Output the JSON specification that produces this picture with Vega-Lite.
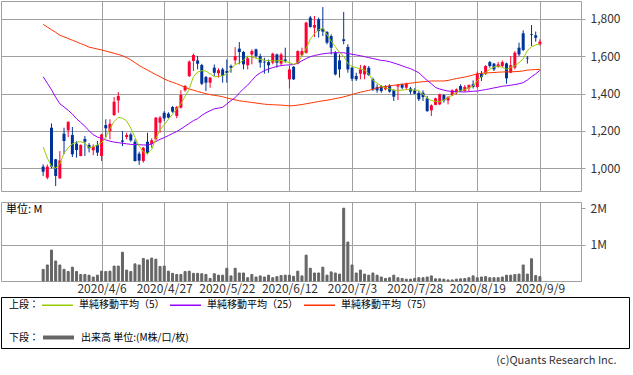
{
"$schema":"https://vega.github.io/schema/vega-lite/v6.json",
"padding":0,
"bounds":"full",
"spacing":1,
"title":{"text":"(c)Quants Research Inc.","orient":"bottom","anchor":"end","offset":6,"dx":-13,"fontSize":11,"fontWeight":"normal","color":"#333333","font":"Noto Sans CJK JP"},
"config":{
"view":{"stroke":"#a0a0a0"},
"font":"Noto Sans CJK JP",
"axis":{"gridColor":"#a0a0a0","gridOpacity":1,"labelFont":"Noto Sans CJK JP","labelFontSize":12,"labelColor":"#333333","domain":false,"tickColor":"#a0a0a0","title":null},
"legend":{"labelFont":"Noto Sans CJK JP","titleFont":"Noto Sans CJK JP","labelFontSize":10,"titleFontSize":10,"titleFontWeight":"normal","labelColor":"#000000","titleColor":"#000000","padding":0,"titleAnchor":"middle","titleBaseline":"top"}
},
"resolve":{"scale":{"color":"shared","stroke":"shared"},"legend":{"color":"shared","stroke":"shared"}},
"data":{"values":[
{"i":0,"d":"2020/3/16","o":1009,"h":1021,"l":959,"c":982,"v":0.32,"m5":1114,"m25":1490,"m75":1770},
{"i":1,"d":"2020/3/17","o":950,"h":1020,"l":941,"c":1009,"v":0.44,"m5":1055,"m25":1455,"m75":1755},
{"i":2,"d":"2020/3/18","o":1217,"h":1240,"l":1000,"c":1009,"v":0.85,"m5":1010,"m25":1420,"m75":1741},
{"i":3,"d":"2020/3/19","o":1048,"h":1050,"l":905,"c":959,"v":0.55,"m5":1000,"m25":1380,"m75":1727},
{"i":4,"d":"2020/3/23","o":946,"h":1092,"l":944,"c":1042,"v":0.44,"m5":1025,"m25":1345,"m75":1712},
{"i":5,"d":"2020/3/24","o":1185,"h":1217,"l":1075,"c":1146,"v":0.32,"m5":1080,"m25":1328,"m75":1703},
{"i":6,"d":"2020/3/25","o":1203,"h":1250,"l":1167,"c":1249,"v":0.26,"m5":1110,"m25":1310,"m75":1694},
{"i":7,"d":"2020/3/26","o":1178,"h":1221,"l":1060,"c":1075,"v":0.38,"m5":1130,"m25":1290,"m75":1685},
{"i":8,"d":"2020/3/27","o":1132,"h":1146,"l":1057,"c":1098,"v":0.26,"m5":1140,"m25":1265,"m75":1676},
{"i":9,"d":"2020/3/30","o":1066,"h":1128,"l":1064,"c":1125,"v":0.18,"m5":1142,"m25":1245,"m75":1667},
{"i":10,"d":"2020/3/31","o":1157,"h":1173,"l":1066,"c":1142,"v":0.18,"m5":1135,"m25":1225,"m75":1658},
{"i":11,"d":"2020/4/1","o":1125,"h":1135,"l":1085,"c":1107,"v":0.16,"m5":1110,"m25":1200,"m75":1648},
{"i":12,"d":"2020/4/2","o":1096,"h":1128,"l":1070,"c":1116,"v":0.11,"m5":1115,"m25":1180,"m75":1643},
{"i":13,"d":"2020/4/3","o":1125,"h":1146,"l":1066,"c":1084,"v":0.16,"m5":1125,"m25":1167,"m75":1638},
{"i":14,"d":"2020/4/6","o":1066,"h":1185,"l":1039,"c":1181,"v":0.27,"m5":1137,"m25":1160,"m75":1633},
{"i":15,"d":"2020/4/7","o":1231,"h":1262,"l":1164,"c":1214,"v":0.26,"m5":1165,"m25":1152,"m75":1627},
{"i":16,"d":"2020/4/8","o":1199,"h":1262,"l":1155,"c":1238,"v":0.27,"m5":1212,"m25":1145,"m75":1621},
{"i":17,"d":"2020/4/9","o":1285,"h":1381,"l":1280,"c":1356,"v":0.41,"m5":1250,"m25":1140,"m75":1615},
{"i":18,"d":"2020/4/10","o":1363,"h":1408,"l":1297,"c":1387,"v":0.41,"m5":1273,"m25":1137,"m75":1609},
{"i":19,"d":"2020/4/13","o":1149,"h":1199,"l":1119,"c":1142,"v":0.79,"m5":1268,"m25":1134,"m75":1602},
{"i":20,"d":"2020/4/14","o":1167,"h":1190,"l":1155,"c":1178,"v":0.30,"m5":1253,"m25":1131,"m75":1592},
{"i":21,"d":"2020/4/15","o":1181,"h":1190,"l":1142,"c":1149,"v":0.26,"m5":1215,"m25":1128,"m75":1580},
{"i":22,"d":"2020/4/16","o":1142,"h":1155,"l":1036,"c":1039,"v":0.47,"m5":1165,"m25":1127,"m75":1565},
{"i":23,"d":"2020/4/17","o":1078,"h":1089,"l":1018,"c":1041,"v":0.44,"m5":1118,"m25":1126,"m75":1550},
{"i":24,"d":"2020/4/20","o":1039,"h":1114,"l":1030,"c":1110,"v":0.62,"m5":1088,"m25":1125,"m75":1537},
{"i":25,"d":"2020/4/21","o":1142,"h":1190,"l":1075,"c":1083,"v":0.58,"m5":1078,"m25":1124,"m75":1525},
{"i":26,"d":"2020/4/22","o":1130,"h":1160,"l":1110,"c":1150,"v":0.63,"m5":1100,"m25":1130,"m75":1513},
{"i":27,"d":"2020/4/23","o":1155,"h":1273,"l":1150,"c":1271,"v":0.60,"m5":1160,"m25":1143,"m75":1501},
{"i":28,"d":"2020/4/24","o":1244,"h":1280,"l":1190,"c":1271,"v":0.40,"m5":1205,"m25":1155,"m75":1490},
{"i":29,"d":"2020/4/27","o":1297,"h":1306,"l":1253,"c":1267,"v":0.41,"m5":1232,"m25":1164,"m75":1478},
{"i":30,"d":"2020/4/28","o":1292,"h":1300,"l":1267,"c":1271,"v":0.27,"m5":1262,"m25":1175,"m75":1468},
{"i":31,"d":"2020/4/30","o":1328,"h":1333,"l":1297,"c":1303,"v":0.21,"m5":1290,"m25":1186,"m75":1460},
{"i":32,"d":"2020/5/1","o":1280,"h":1333,"l":1268,"c":1328,"v":0.18,"m5":1318,"m25":1197,"m75":1452},
{"i":33,"d":"2020/5/7","o":1324,"h":1417,"l":1320,"c":1392,"v":0.18,"m5":1345,"m25":1210,"m75":1443},
{"i":34,"d":"2020/5/8","o":1417,"h":1445,"l":1410,"c":1440,"v":0.26,"m5":1385,"m25":1225,"m75":1433},
{"i":35,"d":"2020/5/11","o":1493,"h":1577,"l":1488,"c":1570,"v":0.27,"m5":1425,"m25":1240,"m75":1424},
{"i":36,"d":"2020/5/12","o":1574,"h":1613,"l":1520,"c":1606,"v":0.21,"m5":1490,"m25":1255,"m75":1418},
{"i":37,"d":"2020/5/13","o":1577,"h":1600,"l":1529,"c":1559,"v":0.21,"m5":1515,"m25":1265,"m75":1411},
{"i":38,"d":"2020/5/14","o":1552,"h":1559,"l":1445,"c":1452,"v":0.20,"m5":1522,"m25":1283,"m75":1405},
{"i":39,"d":"2020/5/15","o":1488,"h":1494,"l":1413,"c":1458,"v":0.18,"m5":1520,"m25":1297,"m75":1399},
{"i":40,"d":"2020/5/18","o":1458,"h":1488,"l":1431,"c":1485,"v":0.07,"m5":1505,"m25":1308,"m75":1394},
{"i":41,"d":"2020/5/19","o":1538,"h":1555,"l":1494,"c":1511,"v":0.20,"m5":1490,"m25":1318,"m75":1390},
{"i":42,"d":"2020/5/20","o":1508,"h":1535,"l":1485,"c":1525,"v":0.16,"m5":1492,"m25":1322,"m75":1387},
{"i":43,"d":"2020/5/21","o":1529,"h":1538,"l":1458,"c":1494,"v":0.16,"m5":1495,"m25":1326,"m75":1383},
{"i":44,"d":"2020/5/22","o":1520,"h":1582,"l":1458,"c":1510,"v":0.35,"m5":1505,"m25":1344,"m75":1376},
{"i":45,"d":"2020/5/25","o":1547,"h":1555,"l":1511,"c":1538,"v":0.14,"m5":1530,"m25":1362,"m75":1371},
{"i":46,"d":"2020/5/26","o":1577,"h":1648,"l":1556,"c":1600,"v":0.35,"m5":1556,"m25":1378,"m75":1366},
{"i":47,"d":"2020/5/27","o":1640,"h":1675,"l":1556,"c":1622,"v":0.22,"m5":1562,"m25":1403,"m75":1361},
{"i":48,"d":"2020/5/28","o":1622,"h":1627,"l":1529,"c":1556,"v":0.22,"m5":1580,"m25":1425,"m75":1358},
{"i":49,"d":"2020/5/29","o":1551,"h":1600,"l":1529,"c":1588,"v":0.09,"m5":1600,"m25":1445,"m75":1355},
{"i":50,"d":"2020/6/1","o":1609,"h":1636,"l":1556,"c":1627,"v":0.18,"m5":1595,"m25":1470,"m75":1352},
{"i":51,"d":"2020/6/2","o":1636,"h":1640,"l":1591,"c":1600,"v":0.11,"m5":1588,"m25":1495,"m75":1349},
{"i":52,"d":"2020/6/3","o":1600,"h":1613,"l":1538,"c":1565,"v":0.14,"m5":1583,"m25":1510,"m75":1346},
{"i":53,"d":"2020/6/4","o":1570,"h":1591,"l":1506,"c":1566,"v":0.11,"m5":1578,"m25":1522,"m75":1343},
{"i":54,"d":"2020/6/5","o":1568,"h":1582,"l":1511,"c":1551,"v":0.16,"m5":1576,"m25":1532,"m75":1341},
{"i":55,"d":"2020/6/8","o":1565,"h":1618,"l":1556,"c":1613,"v":0.09,"m5":1574,"m25":1538,"m75":1340},
{"i":56,"d":"2020/6/9","o":1609,"h":1613,"l":1538,"c":1565,"v":0.12,"m5":1575,"m25":1545,"m75":1339},
{"i":57,"d":"2020/6/10","o":1560,"h":1618,"l":1547,"c":1609,"v":0.15,"m5":1577,"m25":1549,"m75":1338},
{"i":58,"d":"2020/6/11","o":1582,"h":1645,"l":1565,"c":1574,"v":0.16,"m5":1571,"m25":1552,"m75":1336},
{"i":59,"d":"2020/6/12","o":1476,"h":1547,"l":1427,"c":1529,"v":0.16,"m5":1565,"m25":1553,"m75":1334},
{"i":60,"d":"2020/6/15","o":1543,"h":1547,"l":1472,"c":1476,"v":0.13,"m5":1556,"m25":1555,"m75":1335},
{"i":61,"d":"2020/6/16","o":1561,"h":1631,"l":1556,"c":1627,"v":0.27,"m5":1565,"m25":1562,"m75":1338},
{"i":62,"d":"2020/6/17","o":1605,"h":1645,"l":1600,"c":1627,"v":0.14,"m5":1600,"m25":1575,"m75":1341},
{"i":63,"d":"2020/6/18","o":1618,"h":1784,"l":1613,"c":1779,"v":0.71,"m5":1640,"m25":1587,"m75":1345},
{"i":64,"d":"2020/6/19","o":1806,"h":1815,"l":1752,"c":1756,"v":0.35,"m5":1690,"m25":1597,"m75":1349},
{"i":65,"d":"2020/6/22","o":1752,"h":1815,"l":1702,"c":1766,"v":0.22,"m5":1720,"m25":1603,"m75":1353},
{"i":66,"d":"2020/6/23","o":1797,"h":1806,"l":1699,"c":1734,"v":0.22,"m5":1740,"m25":1608,"m75":1357},
{"i":67,"d":"2020/6/24","o":1747,"h":1862,"l":1707,"c":1731,"v":0.38,"m5":1750,"m25":1612,"m75":1361},
{"i":68,"d":"2020/6/25","o":1729,"h":1734,"l":1663,"c":1672,"v":0.16,"m5":1715,"m25":1615,"m75":1364},
{"i":69,"d":"2020/6/26","o":1707,"h":1716,"l":1609,"c":1645,"v":0.25,"m5":1680,"m25":1617,"m75":1368},
{"i":70,"d":"2020/6/29","o":1618,"h":1627,"l":1497,"c":1502,"v":0.22,"m5":1650,"m25":1618,"m75":1373},
{"i":71,"d":"2020/6/30","o":1577,"h":1609,"l":1485,"c":1529,"v":0.19,"m5":1620,"m25":1618,"m75":1377},
{"i":72,"d":"2020/7/1","o":1690,"h":1836,"l":1663,"c":1681,"v":2.0,"m5":1600,"m25":1618,"m75":1382},
{"i":73,"d":"2020/7/2","o":1649,"h":1663,"l":1511,"c":1529,"v":1.07,"m5":1560,"m25":1614,"m75":1388},
{"i":74,"d":"2020/7/3","o":1538,"h":1543,"l":1467,"c":1479,"v":0.44,"m5":1545,"m25":1610,"m75":1395},
{"i":75,"d":"2020/7/6","o":1494,"h":1511,"l":1467,"c":1476,"v":0.22,"m5":1538,"m25":1606,"m75":1401},
{"i":76,"d":"2020/7/7","o":1506,"h":1552,"l":1476,"c":1529,"v":0.30,"m5":1532,"m25":1602,"m75":1407},
{"i":77,"d":"2020/7/8","o":1502,"h":1552,"l":1476,"c":1547,"v":0.19,"m5":1525,"m25":1597,"m75":1412},
{"i":78,"d":"2020/7/9","o":1538,"h":1547,"l":1494,"c":1499,"v":0.16,"m5":1505,"m25":1592,"m75":1417},
{"i":79,"d":"2020/7/10","o":1476,"h":1485,"l":1413,"c":1422,"v":0.22,"m5":1470,"m25":1587,"m75":1422},
{"i":80,"d":"2020/7/13","o":1435,"h":1449,"l":1404,"c":1417,"v":0.16,"m5":1455,"m25":1582,"m75":1430},
{"i":81,"d":"2020/7/14","o":1438,"h":1445,"l":1404,"c":1413,"v":0.11,"m5":1440,"m25":1577,"m75":1434},
{"i":82,"d":"2020/7/15","o":1422,"h":1445,"l":1417,"c":1440,"v":0.07,"m5":1430,"m25":1575,"m75":1437},
{"i":83,"d":"2020/7/16","o":1442,"h":1449,"l":1404,"c":1410,"v":0.09,"m5":1425,"m25":1570,"m75":1441},
{"i":84,"d":"2020/7/17","o":1417,"h":1422,"l":1360,"c":1383,"v":0.16,"m5":1418,"m25":1563,"m75":1444},
{"i":85,"d":"2020/7/20","o":1437,"h":1449,"l":1365,"c":1444,"v":0.09,"m5":1417,"m25":1556,"m75":1447},
{"i":86,"d":"2020/7/21","o":1449,"h":1453,"l":1422,"c":1431,"v":0.07,"m5":1418,"m25":1548,"m75":1450},
{"i":87,"d":"2020/7/22","o":1431,"h":1458,"l":1422,"c":1453,"v":0.05,"m5":1421,"m25":1540,"m75":1452},
{"i":88,"d":"2020/7/27","o":1427,"h":1435,"l":1396,"c":1410,"v":0.05,"m5":1420,"m25":1533,"m75":1455},
{"i":89,"d":"2020/7/28","o":1417,"h":1428,"l":1396,"c":1399,"v":0.07,"m5":1418,"m25":1522,"m75":1458},
{"i":90,"d":"2020/7/29","o":1403,"h":1413,"l":1360,"c":1369,"v":0.09,"m5":1417,"m25":1511,"m75":1461},
{"i":91,"d":"2020/7/30","o":1404,"h":1417,"l":1360,"c":1381,"v":0.09,"m5":1395,"m25":1490,"m75":1463},
{"i":92,"d":"2020/7/31","o":1374,"h":1387,"l":1302,"c":1306,"v":0.11,"m5":1375,"m25":1470,"m75":1465},
{"i":93,"d":"2020/8/3","o":1310,"h":1342,"l":1280,"c":1337,"v":0.14,"m5":1362,"m25":1452,"m75":1467},
{"i":94,"d":"2020/8/4","o":1339,"h":1378,"l":1338,"c":1374,"v":0.06,"m5":1358,"m25":1432,"m75":1467},
{"i":95,"d":"2020/8/5","o":1342,"h":1399,"l":1338,"c":1396,"v":0.06,"m5":1356,"m25":1424,"m75":1467},
{"i":96,"d":"2020/8/6","o":1392,"h":1396,"l":1351,"c":1363,"v":0.05,"m5":1365,"m25":1418,"m75":1467},
{"i":97,"d":"2020/8/7","o":1363,"h":1387,"l":1342,"c":1381,"v":0.03,"m5":1378,"m25":1413,"m75":1470},
{"i":98,"d":"2020/8/11","o":1390,"h":1422,"l":1387,"c":1417,"v":0.03,"m5":1390,"m25":1411,"m75":1475},
{"i":99,"d":"2020/8/12","o":1405,"h":1427,"l":1396,"c":1422,"v":0.05,"m5":1405,"m25":1410,"m75":1480},
{"i":100,"d":"2020/8/13","o":1440,"h":1449,"l":1410,"c":1413,"v":0.06,"m5":1417,"m25":1409,"m75":1484},
{"i":101,"d":"2020/8/14","o":1413,"h":1445,"l":1410,"c":1435,"v":0.07,"m5":1420,"m25":1408,"m75":1488},
{"i":102,"d":"2020/8/17","o":1428,"h":1449,"l":1413,"c":1445,"v":0.09,"m5":1430,"m25":1410,"m75":1493},
{"i":103,"d":"2020/8/18","o":1449,"h":1470,"l":1427,"c":1435,"v":0.14,"m5":1440,"m25":1412,"m75":1499},
{"i":104,"d":"2020/8/19","o":1435,"h":1517,"l":1427,"c":1506,"v":0.09,"m5":1468,"m25":1413,"m75":1505},
{"i":105,"d":"2020/8/20","o":1506,"h":1520,"l":1467,"c":1488,"v":0.11,"m5":1490,"m25":1417,"m75":1508},
{"i":106,"d":"2020/8/21","o":1506,"h":1552,"l":1499,"c":1547,"v":0.12,"m5":1511,"m25":1421,"m75":1510},
{"i":107,"d":"2020/8/24","o":1568,"h":1574,"l":1538,"c":1547,"v":0.09,"m5":1530,"m25":1425,"m75":1511},
{"i":108,"d":"2020/8/25","o":1560,"h":1563,"l":1520,"c":1529,"v":0.09,"m5":1542,"m25":1430,"m75":1512},
{"i":109,"d":"2020/8/26","o":1542,"h":1569,"l":1538,"c":1556,"v":0.09,"m5":1546,"m25":1434,"m75":1514},
{"i":110,"d":"2020/8/27","o":1547,"h":1577,"l":1542,"c":1568,"v":0.11,"m5":1540,"m25":1439,"m75":1515},
{"i":111,"d":"2020/8/28","o":1561,"h":1565,"l":1452,"c":1481,"v":0.16,"m5":1530,"m25":1441,"m75":1516},
{"i":112,"d":"2020/8/31","o":1511,"h":1600,"l":1509,"c":1551,"v":0.16,"m5":1538,"m25":1444,"m75":1516},
{"i":113,"d":"2020/9/1","o":1538,"h":1627,"l":1529,"c":1618,"v":0.18,"m5":1548,"m25":1448,"m75":1517},
{"i":114,"d":"2020/9/2","o":1645,"h":1672,"l":1600,"c":1609,"v":0.19,"m5":1565,"m25":1452,"m75":1518},
{"i":115,"d":"2020/9/3","o":1722,"h":1738,"l":1627,"c":1633,"v":0.44,"m5":1585,"m25":1458,"m75":1521},
{"i":116,"d":"2020/9/4","o":1591,"h":1600,"l":1560,"c":1587,"v":0.19,"m5":1630,"m25":1472,"m75":1525},
{"i":117,"d":"2020/9/7","o":1717,"h":1766,"l":1654,"c":1713,"v":0.61,"m5":1650,"m25":1490,"m75":1527},
{"i":118,"d":"2020/9/8","o":1711,"h":1731,"l":1677,"c":1698,"v":0.15,"m5":1660,"m25":1505,"m75":1528},
{"i":119,"d":"2020/9/9","o":1663,"h":1690,"l":1657,"c":1677,"v":0.12,"m5":1666,"m25":1524,"m75":1529}
]},
"vconcat":[
{
"bounds":"flush",
"spacing":11,
"resolve":{"scale":{"color":"shared","stroke":"shared"},"legend":{"color":"shared","stroke":"shared"}},
"vconcat":[
{
"width":580,"height":190,
"encoding":{
"x":{"field":"i","type":"quantitative","scale":{"domain":[-8.9,127.65],"nice":false,"zero":false},
"axis":{"values":[14,29,44,59,74,89,104,119],"labels":false,"ticks":false,"grid":true,"domain":false}}
},
"layer":[
{"mark":{"type":"rule","strokeWidth":1},
"encoding":{
"y":{"field":"l","type":"quantitative","scale":{"domain":[878.6,1894.7],"nice":false,"zero":false},
"axis":{"orient":"right","values":[1000,1200,1400,1600,1800],"format":",.0f","tickSize":4,"labelPadding":5,"grid":true}},
"y2":{"field":"h"},
"color":{"condition":{"test":"datum.c >= datum.o","value":"#ff0033"},"value":"#003399"}}},
{"mark":{"type":"bar","width":3},
"encoding":{
"y":{"field":"o","type":"quantitative"},
"y2":{"field":"c"},
"color":{"condition":{"test":"datum.c >= datum.o","value":"#ff0033"},"value":"#003399"}}},
{"mark":{"type":"line","strokeWidth":1},
"encoding":{"y":{"field":"m75","type":"quantitative"},
"color":{"datum":"単純移動平均（75）"}}},
{"mark":{"type":"line","strokeWidth":1},
"encoding":{"y":{"field":"m25","type":"quantitative"},
"color":{"datum":"単純移動平均（25）"}}},
{"mark":{"type":"line","strokeWidth":1},
"encoding":{"y":{"field":"m5","type":"quantitative"},
"color":{"datum":"単純移動平均（5）","type":"nominal",
"scale":{"domain":["単純移動平均（5）","単純移動平均（25）","単純移動平均（75）"],"range":["#99cc00","#9900ff","#ff3300"]},
"legend":{"title":"上段：","orient":"none","legendX":8,"legendY":287.5,"direction":"horizontal","titleOrient":"left","symbolType":"stroke","symbolSize":961,"symbolStrokeWidth":1.5,"labelOffset":5,"columnPadding":2,"titlePadding":2}}}}
]
},
{
"width":580,"height":79,
"title":{"text":"単位: M","anchor":"start","orient":"top","offset":-13,"dx":5,"fontSize":11,"fontWeight":"normal","color":"#000000","font":"Noto Sans CJK JP"},
"mark":{"type":"bar","width":2,"strokeWidth":1,"fill":"#666666"},
"encoding":{
"x":{"field":"i","type":"quantitative","scale":{"domain":[-8.9,127.65],"nice":false,"zero":false},
"axis":{"values":[14,29,44,59,74,89,104,119],"labelExpr":"['2020/4/6','2020/4/27','2020/5/22','2020/6/12','2020/7/3','2020/7/28','2020/8/19','2020/9/9'][round((datum.value-14)/15)]","ticks":false,"grid":true,"labelPadding":2,"labelOverlap":false,"labelFlush":false,"labelBound":false}},
"y":{"field":"v","type":"quantitative","scale":{"domain":[0,2.17],"nice":false},
"axis":{"orient":"right","values":[1,2],"labelExpr":"datum.value + 'M'","tickSize":4,"labelPadding":5,"grid":true,"gridOpacity":{"condition":{"test":"datum.value == 2","value":0},"value":1}}},
"stroke":{"datum":"出来高 単位:(M株/口/枚)","type":"nominal","scale":{"range":["#666666"]},
"legend":{"title":"下段：","orient":"none","legendX":8,"legendY":319,"direction":"horizontal","titleOrient":"left","symbolType":"stroke","symbolSize":961,"symbolStrokeWidth":4,"labelOffset":5,"titlePadding":2}}
}
}
]
},
{
"width":628,"height":51,
"view":{"stroke":"#000000","strokeWidth":1},
"data":{"values":[]},
"mark":"text",
"encoding":{}
}
]
}
